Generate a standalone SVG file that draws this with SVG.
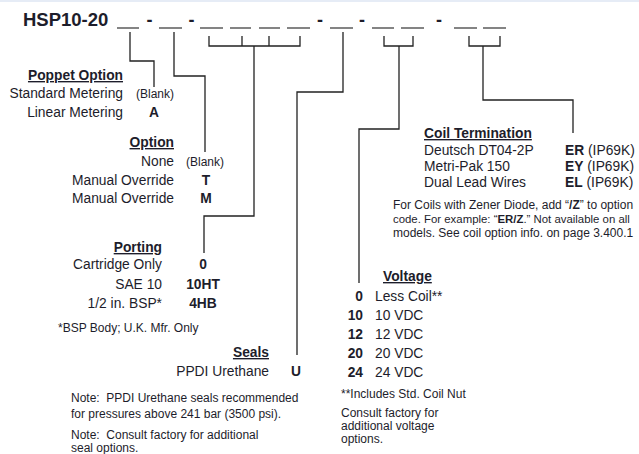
<svg xmlns="http://www.w3.org/2000/svg" width="639" height="454" viewBox="0 0 639 454">
<style>
text{font-family:"Liberation Sans",Arial,sans-serif;fill:#1d1d2b;font-size:13.8px}
.b{font-weight:bold}
.h{font-weight:bold;text-decoration:underline}
.s{font-size:12px}
.e{text-anchor:end}
.m{text-anchor:middle}
.p{white-space:pre}
.blank{stroke:#333;stroke-width:1.2}
.c{fill:none;stroke:#222;stroke-width:1.3}
</style>
<rect width="639" height="454" fill="#fff"/>
<rect width="639" height="2" fill="#e6ecf6"/>
<g id="part-number">
<text x="23" y="26" class="b" style="font-size:18.5px">HSP10-20</text>
<g class="blank">
<line x1="117" y1="28" x2="139" y2="28"/>
<line x1="159" y1="28" x2="182" y2="28"/>
<line x1="200" y1="28" x2="223" y2="28"/>
<line x1="230" y1="28" x2="251" y2="28"/>
<line x1="259" y1="28" x2="280" y2="28"/>
<line x1="287" y1="28" x2="310" y2="28"/>
<line x1="330" y1="28" x2="353" y2="28"/>
<line x1="372" y1="28" x2="394" y2="28"/>
<line x1="401" y1="28" x2="424" y2="28"/>
<line x1="454" y1="28" x2="477" y2="28"/>
<line x1="483" y1="28" x2="506" y2="28"/>
</g>
<text x="149.5" y="26" class="b m" style="font-size:18px">-</text>
<text x="191.5" y="26" class="b m" style="font-size:18px">-</text>
<text x="320" y="26" class="b m" style="font-size:18px">-</text>
<text x="362" y="26" class="b m" style="font-size:18px">-</text>
<text x="439" y="26" class="b m" style="font-size:18px">-</text>
</g>
<g id="connectors">
<path class="c" d="M130 32V61H154V87"/>
<path class="c" d="M174 32V76H205V152"/>
<path class="c" d="M209 36V46H300V36M242 36V46M269 36V46M254 46V216H204V253"/>
<path class="c" d="M343 32V92H297V355"/>
<path class="c" d="M384 36V46H413V36M399 46V129H359V283"/>
<path class="c" d="M469 36V46H500V36M483 46V100H573V133"/>
</g>
<g id="poppet-option">
<text x="123" y="80" class="h e">Poppet Option</text>
<text x="123" y="98" class="e">Standard Metering</text>
<text x="136" y="98" class="s">(Blank)</text>
<text x="123" y="117" class="e">Linear Metering</text>
<text x="154" y="117" class="b m">A</text>
</g>
<g id="option">
<text x="174" y="147" class="h e">Option</text>
<text x="174" y="166" class="e">None</text>
<text x="186" y="166" class="s">(Blank)</text>
<text x="174" y="185" class="e">Manual Override</text>
<text x="206" y="185" class="b m">T</text>
<text x="174" y="203" class="e">Manual Override</text>
<text x="206" y="203" class="b m">M</text>
</g>
<g id="porting">
<text x="162" y="252" class="h e">Porting</text>
<text x="162" y="269" class="e">Cartridge Only</text>
<text x="203" y="269" class="b m">0</text>
<text x="162" y="289" class="e">SAE 10</text>
<text x="203" y="289" class="b m">10HT</text>
<text x="162" y="308" class="e">1/2 in. BSP*</text>
<text x="203" y="308" class="b m">4HB</text>
<text x="58" y="332" class="s">*BSP Body; U.K. Mfr. Only</text>
</g>
<g id="seals">
<text x="269" y="357" class="h e">Seals</text>
<text x="269" y="376" class="e">PPDI Urethane</text>
<text x="296" y="376" class="b m">U</text>
<text x="71" y="402" class="s p">Note:  PPDI Urethane seals recommended</text>
<text x="71" y="418" class="s">for pressures above 241 bar (3500 psi).</text>
<text x="71" y="439" class="s p">Note:  Consult factory for additional</text>
<text x="71" y="452" class="s">seal options.</text>
</g>
<g id="voltage">
<text x="383" y="281" class="h">Voltage</text>
<text x="363" y="301" class="b e">0</text><text x="375" y="301">Less Coil**</text>
<text x="363" y="320" class="b e">10</text><text x="375" y="320">10 VDC</text>
<text x="363" y="339" class="b e">12</text><text x="375" y="339">12 VDC</text>
<text x="363" y="358" class="b e">20</text><text x="375" y="358">20 VDC</text>
<text x="363" y="377" class="b e">24</text><text x="375" y="377">24 VDC</text>
<text x="341" y="398" class="s">**Includes Std. Coil Nut</text>
<text x="341" y="417" class="s">Consult factory for</text>
<text x="341" y="430" class="s">additional voltage</text>
<text x="341" y="443" class="s">options.</text>
</g>
<g id="coil-termination">
<text x="424" y="138" class="h">Coil Termination</text>
<text x="424" y="155">Deutsch DT04-2P</text>
<text x="424" y="171">Metri-Pak 150</text>
<text x="424" y="187">Dual Lead Wires</text>
<text x="565" y="155"><tspan class="b">ER</tspan> (IP69K)</text>
<text x="565" y="171"><tspan class="b">EY</tspan> (IP69K)</text>
<text x="565" y="187"><tspan class="b">EL</tspan> (IP69K)</text>
<text x="393" y="209" class="s">For Coils with Zener Diode, add “<tspan class="b">/Z</tspan>” to option</text>
<text x="393" y="223" class="s" style="font-size:11.4px">code. For example: “<tspan class="b">ER/Z</tspan>.” Not available on all</text>
<text x="393" y="237" class="s">models. See coil option info. on page 3.400.1</text>
</g>
</svg>
